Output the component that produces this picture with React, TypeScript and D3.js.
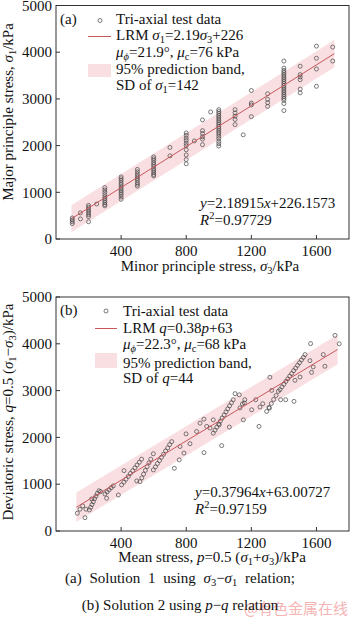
import React, { useEffect, useRef } from "react";
import * as d3 from "d3";

// ---- panel (a): sigma3 columns and the sigma1 readings in each ----
const sigma3Cols = [100, 150, 200, 250, 300, 400, 500, 600, 700, 800, 850, 900, 950, 1000, 1100, 1150, 1200, 1300, 1400, 1500, 1600, 1700];
const sigma1Vals = [
  [450, 410, 370, 330],
  [560, 430],
  [720, 680, 640, 600, 560, 520, 480, 370],
  [750],
  [1100, 1050, 1000, 950, 900, 860, 820, 780, 740, 710],
  [1330, 1290, 1250, 1200, 1160, 1110, 1070, 1030, 990, 950, 900, 850],
  [1490, 1440, 1390, 1340, 1300, 1260, 1210, 1170, 1130],
  [1760, 1720, 1680, 1630, 1590, 1550, 1500, 1460, 1420, 1380, 1350],
  [1960, 1780],
  [2270, 2220, 2160, 2110, 2050, 2000, 1910, 1800, 1700, 1610],
  [2100],
  [2550, 2320, 2260, 2190, 2140, 2020],
  [2720],
  [2770, 2730, 2690, 2650, 2610, 2570, 2530, 2490, 2450, 2410, 2370, 2330, 2290, 2250, 2200, 2150, 2090, 2040, 1990],
  [2770, 2700, 2630, 2560, 2450],
  [2230],
  [3180, 2910, 2870, 2620],
  [3110, 2990, 2920, 2840],
  [3810, 3660, 3610, 3570, 3530, 3490, 3450, 3410, 3370, 3330, 3290, 3250, 3210, 3170, 3130, 3090, 3050, 3010, 2970, 2900, 2750],
  [3700, 3520, 3470, 3410, 3210, 3130],
  [4130, 3870, 3640, 3270],
  [4110, 3810],
];

// ---- panel (b): [p, q] readings ----
const pqPoints: [number, number][] = [
  [131, 380], [147, 465], [164, 535], [178, 285], [184, 465], [219, 685], [274, 842], [311, 700],
  [383, 770], [418, 1290], [496, 1070], [598, 1650], [727, 1340], [757, 1520], [762, 1805], [786, 1665],
  [799, 2075], [823, 1865], [864, 2125], [885, 2305], [909, 1675], [909, 2390], [926, 2235], [946, 2200],
  [966, 2375], [1003, 2270], [1018, 1825], [1065, 2220], [1100, 2935], [1126, 2910], [1151, 2375], [1157, 2735],
  [1202, 2590], [1227, 2805], [1247, 2235], [1253, 2650], [1270, 2720], [1311, 2625], [1314, 3285], [1325, 3005],
  [1380, 2805], [1411, 2805], [1462, 2770], [1468, 3220], [1499, 3290], [1560, 3640], [1564, 4005], [1570, 3390],
  [1580, 3505], [1642, 3770], [1652, 3520], [1714, 4180], [1740, 4000],
  // dense slanted runs
  [205, 450], [213, 505], [221, 565], [229, 625], [237, 690], [245, 745], [254, 805], [264, 860],
  [301, 790], [314, 835], [326, 880], [339, 925], [352, 965],
  [403, 985], [417, 1045], [430, 1105], [444, 1165], [457, 1230], [471, 1290], [485, 1350], [498, 1410], [512, 1470], [526, 1535],
  [516, 1055], [527, 1135], [538, 1215], [549, 1295], [560, 1375], [571, 1455], [582, 1535],
  [598, 1305], [611, 1370], [623, 1440], [636, 1505], [648, 1575], [661, 1640], [673, 1710], [686, 1775], [698, 1845], [711, 1910],
  [966, 2090], [977, 2155], [988, 2220], [999, 2285], [1010, 2350], [1021, 2415], [1033, 2480], [1044, 2545], [1055, 2610], [1066, 2675], [1078, 2740], [1089, 2805],
  [1130, 2630], [1145, 2715], [1160, 2805],
  [1294, 2555], [1308, 2640], [1323, 2725], [1337, 2810], [1352, 2895], [1366, 2985],
  [1376, 3020], [1388, 3080], [1400, 3135], [1412, 3195], [1424, 3250], [1436, 3310], [1448, 3365], [1460, 3425],
  [1472, 3480], [1484, 3540], [1496, 3595], [1508, 3655], [1520, 3710], [1530, 3770],
];

// fitted lines and prediction bands as drawn
const topFit = { slope: 2.18915, intercept: 226.1573, from: 95, to: 1710, half: 290 };
const botFit = { slope: 2.1, intercept: 245, from: 125, to: 1730, half: 315 };

const xTicks = [400, 800, 1200, 1600];
const yTicks = [0, 1000, 2000, 3000, 4000, 5000];

type Part = [string, string]; // kind: n normal, i italic, s sub, is italic sub, p sup

const FONT = "'Liberation Serif', 'Times New Roman', serif";
const LINE = "#c9575a";
const BAND = "#f9dfe2";

function rich(g: any, x: number, y: number, parts: Part[], size = 15, anchor = "start", extra?: (t: any) => void) {
  const t = g
    .append("text")
    .attr("x", x)
    .attr("y", y)
    .attr("font-family", FONT)
    .attr("font-size", size)
    .attr("text-anchor", anchor)
    .attr("fill", "#111");
  let shift = 0;
  parts.forEach(([s, k]) => {
    const target = k === "s" || k === "is" ? 3 : k === "p" ? -5.5 : 0;
    const ts = t.append("tspan").text(s).attr("dy", target - shift);
    shift = target;
    if (k === "i" || k === "is") ts.attr("font-style", "italic");
    if (target !== 0) ts.attr("font-size", size * 0.7);
  });
  if (extra) extra(t);
  return t;
}

const App: React.FC = () => {
  const svgRef = useRef<SVGSVGElement | null>(null);

  useEffect(() => {
    const svg = d3.select(svgRef.current);
    svg.selectAll("*").remove();

    const x = d3.scaleLinear().domain([0, 1800]).range([56, 349]);

    const panel = (
      top: number,
      bottom: number,
      pts: [number, number][],
      fit: typeof topFit
    ) => {
      const y = d3.scaleLinear().domain([0, 5000]).range([bottom, top]);
      const g = svg.append("g");

      // band
      const xs = [fit.from, fit.to];
      const area = d3
        .area<number>()
        .x((d) => x(d))
        .y0((d) => y(fit.slope * d + fit.intercept - fit.half))
        .y1((d) => y(fit.slope * d + fit.intercept + fit.half));
      g.append("path").attr("d", area(xs)).attr("fill", BAND);

      // points
      g.selectAll(".pt")
        .data(pts)
        .enter()
        .append("circle")
        .attr("cx", (d) => x(d[0]))
        .attr("cy", (d) => y(d[1]))
        .attr("r", 2)
        .attr("fill", "none")
        .attr("stroke", "#444")
        .attr("stroke-width", 0.7);

      // fit line
      const line = d3
        .line<number>()
        .x((d) => x(d))
        .y((d) => y(fit.slope * d + fit.intercept));
      g.append("path").attr("d", line(xs)).attr("fill", "none").attr("stroke", LINE).attr("stroke-width", 1);

      // frame
      g.append("rect")
        .attr("x", x(0))
        .attr("y", y(5000))
        .attr("width", x(1800) - x(0))
        .attr("height", y(0) - y(5000))
        .attr("fill", "none")
        .attr("stroke", "#333")
        .attr("stroke-width", 1);

      // y ticks (inward)
      yTicks.forEach((t) => {
        g.append("line")
          .attr("x1", x(0)).attr("x2", x(0) + 4)
          .attr("y1", y(t)).attr("y2", y(t))
          .attr("stroke", "#333");
        g.append("text")
          .attr("x", 52)
          .attr("y", y(t))
          .attr("dy", "0.35em")
          .attr("text-anchor", "end")
          .attr("font-family", FONT)
          .attr("font-size", 15)
          .attr("fill", "#111")
          .text(t);
      });
      xTicks.forEach((t) => {
        g.append("line")
          .attr("x1", x(t)).attr("x2", x(t))
          .attr("y1", y(0)).attr("y2", y(0) - 4)
          .attr("stroke", "#333");
        g.append("text")
          .attr("x", x(t))
          .attr("y", bottom + 16.5)
          .attr("text-anchor", "middle")
          .attr("font-family", FONT)
          .attr("font-size", 15)
          .attr("fill", "#111")
          .text(t);
      });
      return g;
    };

    // ---------- panel (a) ----------
    const topPts: [number, number][] = [];
    sigma3Cols.forEach((s3, i) => sigma1Vals[i].forEach((s1) => topPts.push([s3, s1])));
    const ga = panel(5.5, 239, topPts, topFit);

    rich(ga, 60, 23.5, [["(a)", "n"]]);
    ga.append("circle").attr("cx", 100).attr("cy", 20.5).attr("r", 2).attr("fill", "none").attr("stroke", "#444").attr("stroke-width", 0.7);
    ga.append("line").attr("x1", 88).attr("x2", 111).attr("y1", 36.5).attr("y2", 36.5).attr("stroke", LINE);
    ga.append("rect").attr("x", 88).attr("y", 64).attr("width", 23).attr("height", 13).attr("fill", BAND);
    rich(ga, 116, 23.5, [["Tri-axial test data", "n"]]);
    rich(ga, 116, 40, [["LRM ", "n"], ["σ", "i"], ["1", "s"], ["=2.19", "n"], ["σ", "i"], ["3", "s"], ["+226", "n"]]);
    rich(ga, 116, 57, [["μ", "i"], ["ϕ", "is"], ["=21.9°, ", "n"], ["μ", "i"], ["c", "s"], ["=76 kPa", "n"]]);
    rich(ga, 116, 74, [["95% prediction band,", "n"]]);
    rich(ga, 116, 90, [["SD of ", "n"], ["σ", "i"], ["1", "s"], ["=142", "n"]]);

    rich(ga, 200, 208, [["y", "i"], ["=2.18915", "n"], ["x", "i"], ["+226.1573", "n"]]);
    rich(ga, 200, 224.5, [["R", "i"], ["2", "p"], ["=0.97729", "n"]]);

    rich(ga, 210, 270.5, [["Minor principle stress, ", "n"], ["σ", "i"], ["3", "s"], ["/kPa", "n"]], 15, "middle");
    rich(ga, 0, 0, [["Major principle stress, ", "n"], ["σ", "i"], ["1", "s"], ["/kPa", "n"]], 15, "middle", (t) =>
      t.attr("transform", "translate(12.5,112) rotate(-90)")
    );

    // ---------- panel (b) ----------
    const gb = panel(297, 531, pqPoints, botFit);

    rich(gb, 60, 315, [["(b)", "n"]]);
    gb.append("circle").attr("cx", 106).attr("cy", 311).attr("r", 2).attr("fill", "none").attr("stroke", "#444").attr("stroke-width", 0.7);
    gb.append("line").attr("x1", 95).attr("x2", 117).attr("y1", 328.5).attr("y2", 328.5).attr("stroke", LINE);
    gb.append("rect").attr("x", 95).attr("y", 353).attr("width", 22).attr("height", 15).attr("fill", BAND);
    rich(gb, 123, 315.5, [["Tri-axial test data", "n"]]);
    rich(gb, 123, 333, [["LRM ", "n"], ["q", "i"], ["=0.38", "n"], ["p", "i"], ["+63", "n"]]);
    rich(gb, 123, 348.5, [["μ", "i"], ["ϕ", "is"], ["=22.3°, ", "n"], ["μ", "i"], ["c", "s"], ["=68 kPa", "n"]]);
    rich(gb, 123, 368, [["95% prediction band,", "n"]]);
    rich(gb, 123, 383, [["SD of ", "n"], ["q", "i"], ["=44", "n"]]);

    rich(gb, 195, 497, [["y", "i"], ["=0.37964", "n"], ["x", "i"], ["+63.00727", "n"]]);
    rich(gb, 195, 513.5, [["R", "i"], ["2", "p"], ["=0.97159", "n"]]);

    rich(gb, 212, 562, [["Mean stress, ", "n"], ["p", "i"], ["=0.5 (", "n"], ["σ", "i"], ["1", "s"], ["+", "n"], ["σ", "i"], ["3", "s"], [")/kPa", "n"]], 15, "middle");
    rich(gb, 0, 0, [["Deviatoric stress, ", "n"], ["q", "i"], ["=0.5 (", "n"], ["σ", "i"], ["1", "s"], ["−", "n"], ["σ", "i"], ["3", "s"], [")/kPa", "n"]], 15, "middle", (t) =>
      t.attr("transform", "translate(13,412) rotate(-90)")
    );

    // captions
    rich(svg, 180, 583, [["(a) Solution 1 using ", "n"], ["σ", "i"], ["3", "s"], ["−", "n"], ["σ", "i"], ["1", "s"], [" relation;", "n"]], 15, "middle", (t) =>
      t.attr("word-spacing", 4)
    );
    svg.append("text")
      .attr("x", 296)
      .attr("y", 614)
      .attr("text-anchor", "middle")
      .attr("font-family", "'Noto Sans CJK SC', sans-serif")
      .attr("font-size", 15)
      .attr("fill", "#f4b4b4")
      .text("@有色金属在线");
    rich(svg, 180, 609.5, [["(b) Solution 2 using ", "n"], ["p", "i"], ["−", "n"], ["q", "i"], [" relation", "n"]], 15, "middle");
  }, []);

  return (
    <svg
      ref={svgRef}
      width={350}
      height={620}
      style={{ position: "absolute", left: 0, top: 0, background: "#fff" }}
    ></svg>
  );
};

export default App;
